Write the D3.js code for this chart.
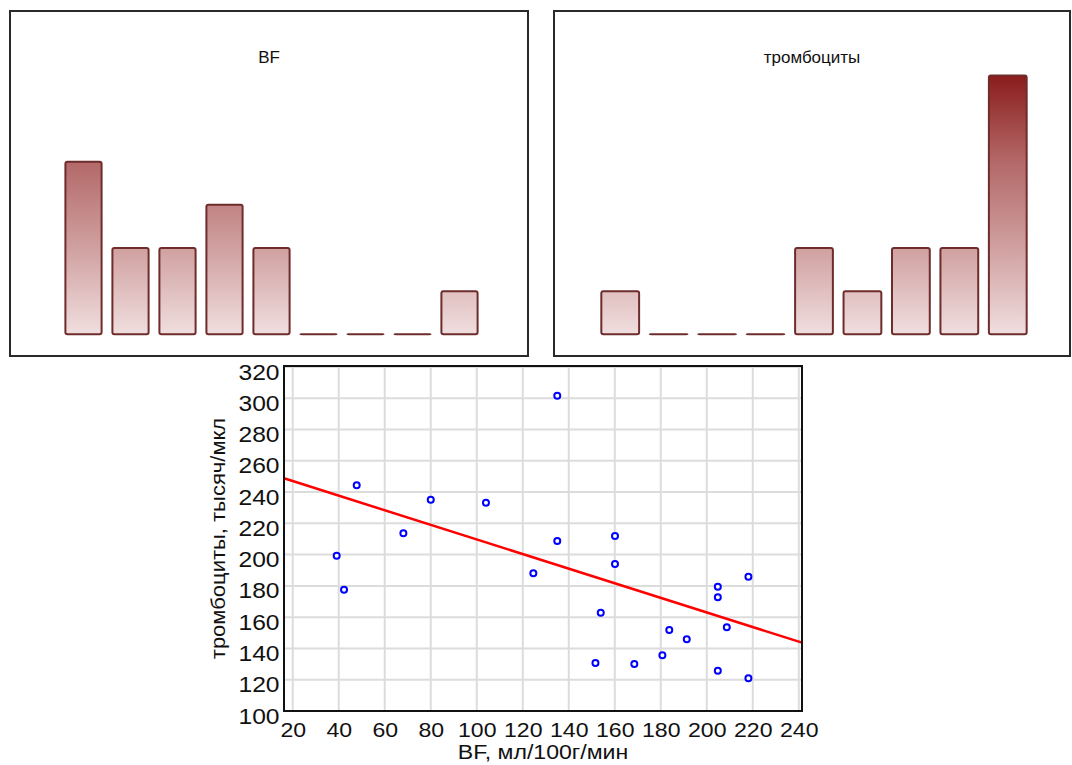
<!DOCTYPE html>
<html>
<head>
<meta charset="utf-8">
<script src="https://d3js.org/d3.v7.min.js"></script>
<style>
  body { margin: 0; background: #fff; }
  svg text { font-family: "Liberation Sans", Arial, sans-serif; fill: #111; }
  .grid line { stroke: #dcdcdc; stroke-width: 2; }
  .axis path { display: none; }
</style>
</head>
<body>
<svg id="chart" width="1072" height="765"></svg>
<script>
// histograms, 9 bins each
var bfCounts  = [4, 2, 2, 3, 2, 0, 0, 0, 1];
var pltCounts = [1, 0, 0, 0, 2, 1, 2, 2, 6];
var histTitles = ["BF", "тромбоциты"];

// scatter: BF (мл/100г/мин) vs тромбоциты (тысяч/мкл)
var bfValues  = [135, 47.8, 80, 68.1, 104, 135, 39.1, 42.3, 124.6, 160.1, 160.1, 153.9,
                 151.6, 168.5, 180.7, 183.7, 191.3, 204.8, 204.8, 208.7, 218.1, 204.8, 218.1];
var pltValues = [301.5, 244.3, 235, 213.6, 233.2, 208.7, 199.3, 177.5, 188.1, 211.9, 194, 162.9,
                 130.7, 130.1, 135.6, 151.8, 145.8, 179.5, 172.7, 153.5, 185.9, 125.8, 120.9];
// regression line end points
var fitX = [16.2, 241.4];
var fitY = [248.8, 143.7];

var xTicks = [20, 40, 60, 80, 100, 120, 140, 160, 180, 200, 220, 240];
var yTicks = [100, 120, 140, 160, 180, 200, 220, 240, 260, 280, 300, 320];
var xTitle = "BF, мл/100г/мин";
var yTitle = "тромбоциты, тысяч/мкл";

var svg = d3.select("#chart");

// ---- histogram panels ----
var grad = svg.append("defs").append("linearGradient")
  .attr("id", "barGrad").attr("gradientUnits", "userSpaceOnUse")
  .attr("x1", 0).attr("y1", 334).attr("x2", 0).attr("y2", 75);
[[0, "#f0dede"], [0.333, "#d0a0a0"], [0.667, "#b36868"], [1, "#8b1c1c"]].forEach(function(s) {
  grad.append("stop").attr("offset", s[0]).attr("stop-color", s[1]);
});

var hy = d3.scaleLinear().domain([0, 6]).range([334.3, 75.4]);

function histPanel(counts, title, frame, bandRange, pad) {
  svg.append("rect")
    .attr("x", frame[0]).attr("y", frame[1]).attr("width", frame[2]).attr("height", frame[3])
    .attr("fill", "none").attr("stroke", "#2a2a2a").attr("stroke-width", 2);

  svg.append("text")
    .attr("x", frame[0] + frame[2] / 2).attr("y", 63)
    .attr("text-anchor", "middle").style("font-size", "17px")
    .text(title);

  var bx = d3.scaleBand().domain(d3.range(counts.length)).range(bandRange)
    .paddingInner(pad).paddingOuter(pad / 2);

  svg.append("g").selectAll("rect").data(counts).enter().append("rect")
    .attr("x", function(d, i) { return bx(i); })
    .attr("y", function(d) { return hy(d); })
    .attr("width", bx.bandwidth())
    .attr("height", function(d) { return Math.max(0.01, hy(0) - hy(d)); })
    .attr("rx", 2)
    .attr("fill", "url(#barGrad)")
    .attr("stroke", "#6e2c2c").attr("stroke-width", 2);
}

histPanel(bfCounts, histTitles[0], [10, 11, 518, 345], [60, 483], 0.23);
histPanel(pltCounts, histTitles[1], [554, 11, 516, 345], [596, 1032], 0.22);

// ---- scatter plot ----
var x = d3.scaleLinear().domain([16.2, 241.4]).range([284, 802]);
var y = d3.scaleLinear().domain([100, 320.6]).range([711, 366]);

svg.append("g").attr("class", "grid")
  .selectAll("line").data(xTicks).enter().append("line")
  .attr("x1", function(d) { return x(d); }).attr("x2", function(d) { return x(d); })
  .attr("y1", y.range()[1]).attr("y2", y.range()[0]);
svg.append("g").attr("class", "grid")
  .selectAll("line").data(yTicks).enter().append("line")
  .attr("y1", function(d) { return y(d); }).attr("y2", function(d) { return y(d); })
  .attr("x1", x.range()[0]).attr("x2", x.range()[1]);

// regression line
svg.append("path")
  .datum(d3.zip(fitX, fitY))
  .attr("fill", "none").attr("stroke", "#ff0000").attr("stroke-width", 2.5)
  .attr("d", d3.line().x(function(d) { return x(d[0]); }).y(function(d) { return y(d[1]); }));

// points
svg.append("g").selectAll("circle").data(d3.zip(bfValues, pltValues)).enter().append("circle")
  .attr("cx", function(d) { return x(d[0]); })
  .attr("cy", function(d) { return y(d[1]); })
  .attr("r", 3)
  .attr("fill", "#fff").attr("stroke", "#0000ff").attr("stroke-width", 2);

// frame
svg.append("rect")
  .attr("x", x.range()[0]).attr("y", y.range()[1])
  .attr("width", x.range()[1] - x.range()[0]).attr("height", y.range()[0] - y.range()[1])
  .attr("fill", "none").attr("stroke", "#111").attr("stroke-width", 2);

// axes
var xAxis = svg.append("g").attr("class", "axis")
  .attr("transform", "translate(0," + y.range()[0] + ")")
  .call(d3.axisBottom(x).tickValues(xTicks).tickSize(0).tickPadding(11));
xAxis.selectAll("text").style("font-size", "21px").attr("transform", "scale(1.1,1)");

var yAxis = svg.append("g").attr("class", "axis")
  .attr("transform", "translate(" + x.range()[0] + ",0)")
  .call(d3.axisLeft(y).tickValues(yTicks).tickSize(0).tickPadding(4));
yAxis.selectAll("text").style("font-size", "22px").attr("dy", "0.55em")
  .attr("transform", "scale(1.12,1)");

svg.append("text")
  .attr("transform", "translate(" + d3.mean(x.range()) + ",759) scale(1.1,1)")
  .attr("text-anchor", "middle").style("font-size", "21px")
  .text(xTitle);

svg.append("text")
  .attr("transform", "translate(225," + d3.mean(y.range()) + ") rotate(-90) scale(1.1,1)")
  .attr("text-anchor", "middle").style("font-size", "20px")
  .text(yTitle);
</script>
</body>
</html>
